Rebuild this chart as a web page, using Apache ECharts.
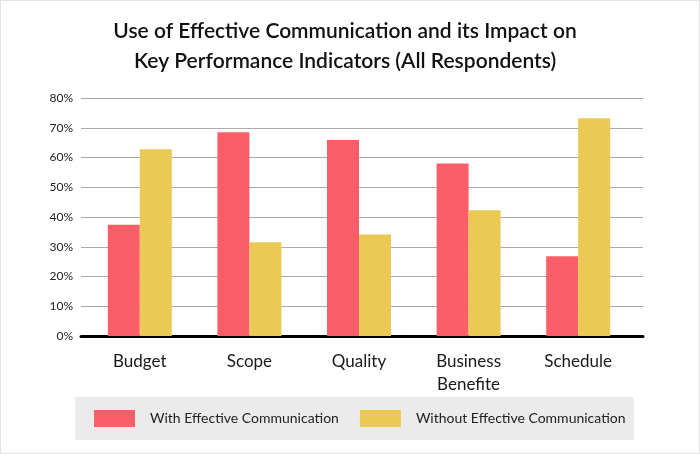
<!DOCTYPE html>
<html>
<head>
<meta charset="utf-8">
<script src="https://cdn.jsdelivr.net/npm/echarts@6/dist/echarts.min.js"></script>
<style>
html,body{margin:0;padding:0;background:#fff;}
#c{width:700px;height:454px;box-sizing:border-box;border:1px solid #e2e2e2;}
</style>
</head>
<body>
<div id="c"></div>
<script>
const categories = ['Budget', 'Scope', 'Quality', 'Business\nBenefite', 'Schedule'];
const withComm = [37.4, 68.5, 65.9, 58.0, 26.8];
const withoutComm = [62.8, 31.5, 34.1, 42.3, 73.2];
const seriesNames = ['With Effective Communication', 'Without Effective Communication'];
const yTicks = {min: 0, max: 80, interval: 10};

const chart = echarts.init(document.getElementById('c'), null, {renderer: 'canvas'});
const font = 'Lato, "Open Sans", sans-serif';
chart.setOption({
  animation: false,
  title: {
    text: 'Use of Effective Communication and its Impact on\nKey Performance Indicators (All Respondents)',
    left: 339, top: 10, textAlign: 'center',
    textStyle: {fontFamily: font, fontSize: 21, fontWeight: 600, color: '#111', lineHeight: 30}
  },
  legend: {
    left: 74, top: 396, width: 560,
    backgroundColor: '#ebebeb',
    padding: [13, 8, 13, 19],
    itemWidth: 41, itemHeight: 17, itemGap: 21,
    icon: 'rect',
    textStyle: {fontFamily: font, fontSize: 14, color: '#222', padding: [0, 0, 0, 10]},
    data: seriesNames
  },
  grid: [
    {left: 80, right: 56, top: 97, bottom: 117},
    {left: 84, right: 66, top: 97, bottom: 117}
  ],
  xAxis: [
    {gridIndex: 0, type: 'category', data: categories,
     axisLine: {lineStyle: {color: '#000', width: 3}}, axisTick: {show: false}, axisLabel: {show: false}},
    {gridIndex: 1, type: 'category', data: categories,
     axisLine: {show: false}, axisTick: {show: false},
     axisLabel: {fontFamily: font, fontSize: 17, color: '#1a1a1a', margin: 14, lineHeight: 23}}
  ],
  yAxis: [
    {gridIndex: 0, type: 'value', min: yTicks.min, max: yTicks.max, interval: yTicks.interval,
     axisLine: {show: false}, axisTick: {show: false},
     axisLabel: {formatter: '{value}%', fontFamily: font, fontSize: 12, color: '#222', margin: 8},
     splitLine: {lineStyle: {color: '#ababab', width: 1}}},
    {gridIndex: 1, type: 'value', min: yTicks.min, max: yTicks.max, interval: yTicks.interval, show: false}
  ],
  series: [
    {name: seriesNames[0], type: 'bar', xAxisIndex: 1, yAxisIndex: 1, data: withComm,
     barWidth: 32, barGap: '0%', itemStyle: {color: '#fa5f69'}},
    {name: seriesNames[1], type: 'bar', xAxisIndex: 1, yAxisIndex: 1, data: withoutComm,
     barWidth: 32, barGap: '0%', itemStyle: {color: '#ecc955'}}
  ]
});
</script>
</body>
</html>
